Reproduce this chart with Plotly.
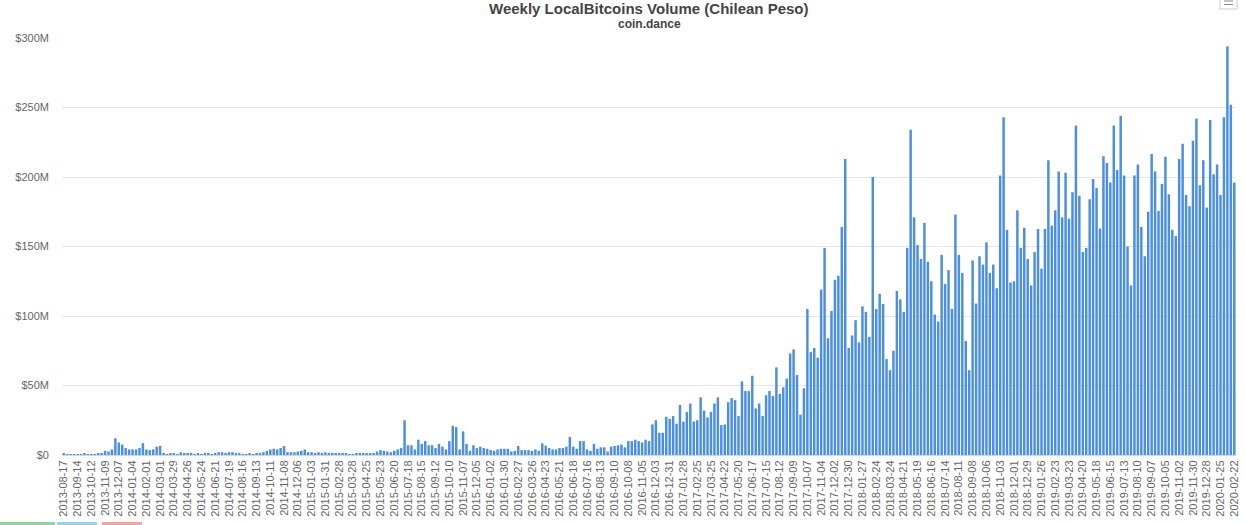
import pandas as pd
import plotly.graph_objects as go

# Weekly volume in millions of CLP, one value per week starting 2013-08-17
start_date = "2013-08-17"
volume_m = [
    0.8, 0.2, 0.3, 0.2, 0.3, 0.5, 0.8, 0.4, 0.6, 0.5,
    0.8, 1.5, 3, 2.5, 4, 12, 9, 7.5, 5, 4,
    4, 4, 5, 8.5, 4, 3.5, 4, 6, 6.5, 1.5,
    0.5, 1, 1.5, 0.5, 2, 1.5, 1, 1.5, 0.5, 1,
    0.5, 1, 1, 0.5, 1, 2, 2, 1.5, 2, 2,
    1, 1.5, 0.5, 0.5, 1, 0.5, 1, 1, 2, 3,
    4, 4.5, 4, 5, 6.5, 2, 2, 2, 2.5, 3,
    4, 2, 2, 1.5, 2, 1.5, 2, 1.5, 1.5, 1.5,
    1, 1.5, 1, 0.3, 0.3, 1.5, 1.5, 1.5, 1, 1.5,
    1, 2.5, 3.5, 3, 2.5, 2, 3, 4, 5, 25,
    7, 7, 4, 11, 8, 10, 7, 7, 5, 8,
    6, 4, 10, 21, 20, 4, 17, 8, 3, 7,
    5, 6, 5, 4.5, 3.5, 3, 4, 4.5, 4.5, 4.5,
    2.5, 3, 6.5, 3.5, 3.5, 3.5, 3, 4, 3, 8.4,
    6.7, 5, 4, 4, 5, 5, 6, 13, 6, 4.5,
    10, 10, 4, 3, 8, 4.5, 5.5, 5.5, 2.5, 6,
    6.5, 7, 7.5, 5.5, 10, 10, 11, 10, 9, 11,
    10, 22, 25, 16, 16, 27.5, 26, 28, 22.5, 36,
    24, 31, 37, 24, 25, 41.5, 32, 27, 31, 37,
    41.5, 21.5, 22, 38, 41, 39.5, 28, 53, 46, 46,
    57, 33.5, 37, 28, 43, 46, 42.5, 63, 44, 48.7,
    55, 73, 76, 57.5, 29, 48, 105, 74, 77, 70,
    119, 149, 84, 103.6, 126, 129, 164, 213, 77, 86,
    97, 81, 107, 103, 85, 200, 105, 116, 108.6, 69,
    61, 75, 118, 112, 103, 149, 234, 171, 151, 141,
    167, 139, 125, 101, 96, 144, 123, 133, 105, 173,
    144, 131, 82, 61, 140, 109, 143, 137, 153, 131,
    137, 120, 201, 243, 162, 124, 125, 176, 149, 163.5,
    141, 122, 146, 162.6, 134, 162.6, 212, 165, 176, 204,
    171, 203, 170, 189, 237, 186.6, 146, 149, 184, 198.6,
    192, 163, 215, 210, 196, 237, 205, 244, 201, 150,
    122, 201, 209, 164, 143, 175, 216.5, 204, 175.5, 195,
    214.6, 187.5, 162, 157.5, 213, 224, 187, 179, 226, 242,
    194, 212, 178, 241, 202, 209, 187, 243, 294, 252,
    196,
]

weeks = [d.strftime("%Y-%m-%d") for d in pd.date_range(start_date, periods=len(volume_m), freq="7D")]
tick_weeks = weeks[::4]
y_tickvals = [0, 50, 100, 150, 200, 250, 300]
y_ticktext = ["$0", "$50M", "$100M", "$150M", "$200M", "$250M", "$300M"]

W, H = 1246, 525
ML, MR, MT, MB = 62, 10, 38, 70
PW, PH = W - ML - MR, H - MT - MB

def px(x):
    return (x - ML) / PW

def py(y):
    return (H - MB - y) / PH

fig = go.Figure(go.Bar(
    x=weeks, y=volume_m,
    marker=dict(color="#4a8fe2", line=dict(width=0)),
    hovertemplate="%{x}: $%{y}M<extra></extra>",
))

shapes = []
# bottom page buttons (partially visible)
for x0, x1, col in [(0, 55, "#8fd49a"), (57, 97, "#8fd6ea"), (102, 142, "#f2a3a3")]:
    shapes.append(dict(type="rect", xref="paper", yref="paper",
                       x0=px(x0), x1=px(x1), y0=py(525), y1=py(522),
                       fillcolor=col, line=dict(width=0), layer="above"))
# context menu button
shapes.append(dict(type="rect", xref="paper", yref="paper",
                   x0=px(1220), x1=px(1237), y0=py(9), y1=py(-4),
                   fillcolor="white", line=dict(color="#cccccc", width=1)))
for yy in (1, 4.5):
    shapes.append(dict(type="line", xref="paper", yref="paper",
                       x0=px(1224), x1=px(1233), y0=py(yy), y1=py(yy),
                       line=dict(color="#888888", width=1)))

fig.update_layout(
    width=W, height=H,
    margin=dict(l=ML, r=MR, t=MT, b=MB, autoexpand=False),
    paper_bgcolor="white", plot_bgcolor="white",
    bargap=0.28,
    showlegend=False,
    font=dict(family="Liberation Sans", color="#666666"),
    xaxis=dict(type="category", categoryorder="array", categoryarray=weeks,
               range=[-0.5, len(weeks) - 0.5], automargin=False,
               tickmode="array", tickvals=tick_weeks, ticktext=tick_weeks,
               tickangle=-90, tickfont=dict(size=11, color="#666666"),
               showgrid=False, showline=True, linecolor="#ccd6eb", linewidth=1,
               ticks="", fixedrange=True),
    yaxis=dict(range=[0, 300], tickmode="array", tickvals=y_tickvals, ticktext=y_ticktext,
               tickfont=dict(size=11, color="#666666"), showgrid=True, automargin=False,
               gridcolor="#e6e6e6", gridwidth=1, zeroline=False, showline=False,
               ticklabelstandoff=12, fixedrange=True),
    shapes=shapes,
    annotations=[
        dict(text="<b>Weekly LocalBitcoins Volume (Chilean Peso)</b>", xref="paper", yref="paper",
             x=px(649), y=py(8), xanchor="center", yanchor="middle", showarrow=False,
             font=dict(size=15, color="#444444", family="Liberation Sans")),
        dict(text="<b>coin.dance</b>", xref="paper", yref="paper",
             x=px(649), y=py(24), xanchor="center", yanchor="middle", showarrow=False,
             font=dict(size=12, color="#444444", family="Liberation Sans")),
    ],
)

fig.write_html("out.html")
